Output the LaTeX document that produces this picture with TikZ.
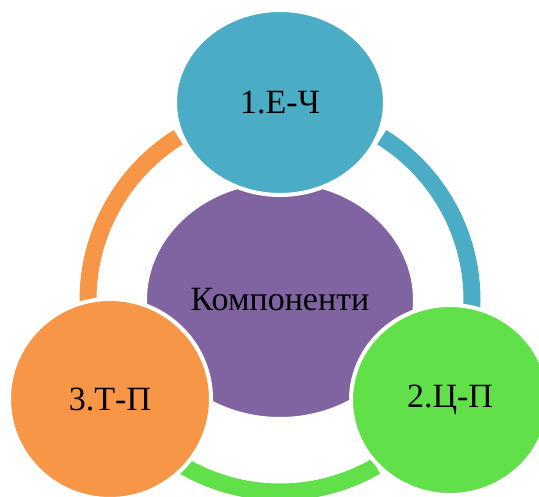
\documentclass[tikz,border=0pt]{standalone}
\usepackage{fontspec}
\setmainfont{Liberation Serif}
\usetikzlibrary{shapes.geometric}
\definecolor{cblue}{HTML}{4BACC6}
\definecolor{cpurple}{HTML}{8064A2}
\definecolor{cgreen}{HTML}{62E04A}
\definecolor{corange}{HTML}{F79646}
\tikzset{
  bub/.style={ellipse, inner sep=0pt, draw=white, line width=4pt,
    font=\fontsize{34}{40}\selectfont, text=black},
  ring/.style={line width=17pt, line cap=butt}
}
\begin{document}
\begin{tikzpicture}[x=1pt, y=-1pt]
\useasboundingbox (0,0) rectangle (539,497);
\coordinate (c) at (280,300);
\node[bub, fill=cpurple, minimum width=270pt, minimum height=238pt] (comp) at (280,300) {Компоненти};
\draw[ring, corange] (c) ++(-122:192) arc[start angle=-122, end angle=-185, radius=192];
\draw[ring, cblue] (c) ++(-58:192) arc[start angle=-58, end angle=5, radius=192];
\draw[ring, cgreen] (c) ++(120:192) arc[start angle=120, end angle=60, radius=192];
\node[bub, fill=cblue, minimum width=210pt, minimum height=185pt] (a) at (280,102.5) {1.Е-Ч};
\node[bub, fill=cgreen, minimum width=198pt, minimum height=190pt] (b) at (450,400) {2.Ц-П};
\node[bub, fill=corange, minimum width=202pt, minimum height=200pt] (d) at (110,399) {3.Т-П};
\end{tikzpicture}
\end{document}
